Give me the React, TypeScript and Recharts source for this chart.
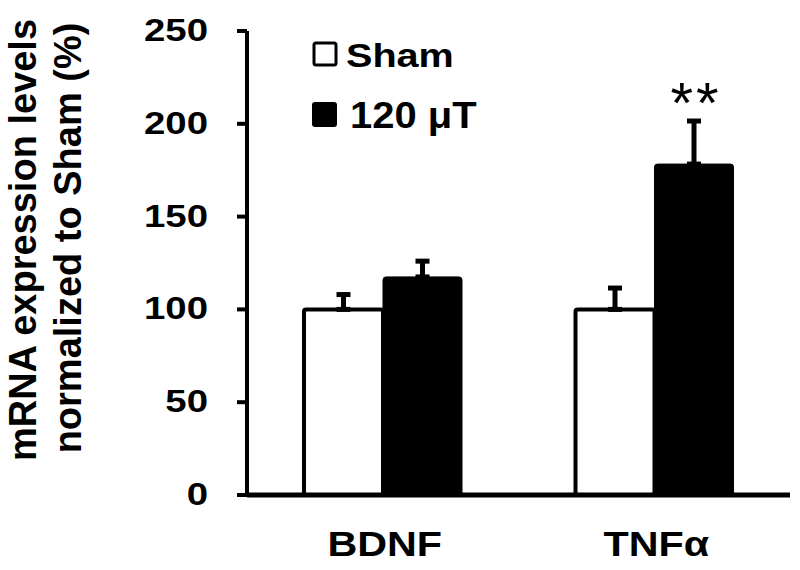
import React from "react"
import { Bar, BarChart, ErrorBar, LabelList, XAxis, YAxis } from "recharts"

const categories = ["BDNF", "TNFα"]
const shamValues = [100, 100]
const shamErrors = [8, 11.5]
const fieldValues = [117.5, 178.3]
const fieldErrors = [8.5, 23.2]
const significance = ["", "**"]
const yTicks = [0, 50, 100, 150, 200, 250]
const seriesNames = ["Sham", "120 μT"]

const FONT = "'Liberation Sans', Arial, sans-serif"

const chartData = categories.map((name, i) => ({
  name,
  sham: shamValues[i],
  shamErr: [0, shamErrors[i]],
  field: fieldValues[i],
  fieldErr: [0, fieldErrors[i]],
  sig: significance[i],
}))

const YTick = ({ x, y, payload }: any) => (
  <text
    transform={`translate(${x - 27},${y + 10}) scale(1.2,1)`}
    textAnchor="end"
    fontFamily={FONT}
    fontWeight="bold"
    fontSize={32}
    fill="#000"
  >
    {payload.value}
  </text>
)

const XTick = ({ x, payload }: any) => (
  <text
    transform={`translate(${x + 2},556) scale(1.18,1)`}
    textAnchor="middle"
    fontFamily={FONT}
    fontWeight="bold"
    fontSize={35}
    fill="#000"
  >
    {payload.value}
  </text>
)

const YLabel = () => (
  <g fontFamily={FONT} fontWeight="bold" fontSize={38} fill="#000">
    <text transform="translate(36,240) rotate(-90)" textAnchor="middle">
      mRNA expression levels
    </text>
    <text transform="translate(81,238) rotate(-90)" textAnchor="middle">
      normalized to Sham (%)
    </text>
  </g>
)

// legend drawn straight into the svg so it takes no room from the plot
const LegendBox = () => (
  <g fontFamily={FONT} fontWeight="bold" fill="#000">
    <rect x={314} y={43} width={22} height={22} fill="#fff" stroke="#000" strokeWidth={3} rx={2} />
    <text transform="translate(346,67) scale(1.2,1)" fontSize={33}>
      {seriesNames[0]}
    </text>
    <rect x={312} y={102} width={25} height={25} fill="#000" rx={3} />
    <text transform="translate(350,128) scale(1.08,1)" fontSize={37}>
      {seriesNames[1]}
    </text>
  </g>
)

// stars sit just above the top of the error bar
const StarLabel = (props: any) => {
  const { x, y, width, height, value, index } = props
  const mark = significance[index]
  if (!mark) return null
  const pxPerUnit = height / value
  const errTop = y - fieldErrors[index] * pxPerUnit
  return (
    <text
      x={x + width / 2 + 2}
      y={errTop + 2}
      textAnchor="middle"
      fontFamily={FONT}
      fontSize={58}
      letterSpacing={3}
      fill="#000"
    >
      {mark}
    </text>
  )
}

export default function App() {
  return (
    <div style={{ position: "absolute", left: 0, top: 0, width: 800, height: 570, background: "#fff" }}>
      <BarChart
        width={800}
        height={570}
        data={chartData}
        margin={{ top: 31, right: 10, left: 100, bottom: 0 }}
        barGap={0}
        barSize={79}
      >
        <XAxis
          dataKey="name"
          height={75}
          axisLine={{ stroke: "#000", strokeWidth: 5 }}
          tickLine={false}
          tick={<XTick />}
          interval={0}
        />
        <YAxis
          width={147}
          domain={[0, 250]}
          ticks={yTicks}
          interval={0}
          axisLine={{ stroke: "#000", strokeWidth: 4 }}
          tickLine={{ stroke: "#000", strokeWidth: 4 }}
          tickSize={10}
          tick={<YTick />}
        />
        <Bar
          dataKey="sham"
          name={seriesNames[0]}
          fill="#fff"
          stroke="#000"
          strokeWidth={4}
          radius={[2, 2, 0, 0]}
          isAnimationActive={false}
        >
          <ErrorBar dataKey="shamErr" width={7} strokeWidth={5} stroke="#000" direction="y" />
        </Bar>
        <Bar
          dataKey="field"
          name={seriesNames[1]}
          fill="#000"
          stroke="#000"
          strokeWidth={1}
          radius={[3, 3, 0, 0]}
          isAnimationActive={false}
        >
          <ErrorBar dataKey="fieldErr" width={7} strokeWidth={5} stroke="#000" direction="y" />
          <LabelList dataKey="field" content={<StarLabel />} />
        </Bar>
        <YLabel />
        <LegendBox />
      </BarChart>
    </div>
  )
}
